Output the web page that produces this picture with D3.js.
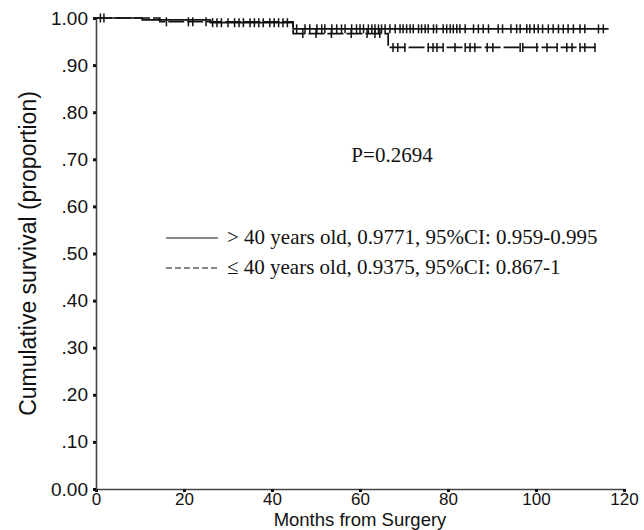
<!DOCTYPE html>
<html>
<head>
<meta charset="utf-8">
<script src="https://cdn.jsdelivr.net/npm/d3@7"></script>
<style>
  body { margin: 0; background: #fff; }
  text { fill: #111; }
</style>
</head>
<body>
<svg id="viz"></svg>
<script>
var width = 644;
var height = 530;

// axis ticks
var xTicks = [0, 20, 40, 60, 80, 100, 120];
var yTicks = [0, 0.1, 0.2, 0.3, 0.4, 0.5, 0.6, 0.7, 0.8, 0.9, 1.0];
var yTickLabels = ["0.00", ".10", ".20", ".30", ".40", ".50", ".60", ".70", ".80", ".90", "1.00"];

// > 40 years old (solid)
var olderTimes = [0, 10.5, 26, 44.8];
var olderSurv = [1, 0.996, 0.99, 0.977];
var olderEnd = 116.5;
var olderCensor = [1.0, 1.8, 26.5, 27.5, 28.5, 30, 31.5, 32.5, 33.5, 35, 36, 37, 38, 39.5, 40.5, 41.5, 42.5, 43.5,
  45.6, 47.5, 48.6, 50.2, 51.3, 52, 53.6, 54.7, 55.8, 56.6, 58.1, 59.2, 60.0, 60.8, 61.9, 62.7, 63.4, 64.2, 64.9,
  65.7, 66.8, 68.0, 69.1, 69.8, 70.6, 71.4, 72.1, 73.3, 74.0, 74.8, 75.5, 76.7, 77.4, 78.9, 79.7, 80.5, 81.2,
  82.0, 82.7, 83.9, 85.8, 86.9, 88.0, 89.2, 91.4, 92.4, 94.3, 95.6, 96.4, 97.9, 98.6, 99.6, 100.5, 101.5,
  102.8, 103.9, 105.1, 106.2, 107.3, 108.5, 110.0, 111.1, 114.2, 115.3];

// <= 40 years old (dashed)
var youngTimes = [0, 14.5, 44.8, 66.4];
var youngSurv = [1, 0.992, 0.967, 0.9375];
var youngEnd = 113.8;
var youngCensor = [16, 21, 22, 25, 47, 50, 53.5, 58, 61.6, 63.4, 64.5,
  67.5, 68.6, 70.2, 75.5, 76.6, 77.5, 78.9, 81.6, 83.9, 85, 86.1, 88.9, 90.2, 96.4, 97, 100.2, 102.5,
  104.8, 107, 108.2, 110, 111.1, 113.4];

var pText = "P=0.2694";
var legendLabels = ["> 40 years old, 0.9771, 95%CI: 0.959-0.995", "\u2264 40 years old, 0.9375, 95%CI: 0.867-1"];

var sans = "'Liberation Sans', Arial, sans-serif";
var serif = "'Liberation Serif', 'Times New Roman', serif";

var svg = d3.select("#viz").attr("width", width).attr("height", height);

var x = d3.scaleLinear().domain([0, 120]).range([96, 624]);
var y = d3.scaleLinear().domain([0, 1]).range([489, 18]);

// axes
var xAxis = svg.append("g")
    .attr("transform", "translate(0," + y(0) + ")")
    .call(d3.axisBottom(x).tickValues(xTicks).tickSize(3).tickPadding(1));
var yAxis = svg.append("g")
    .attr("transform", "translate(" + x(0) + ",0)")
    .call(d3.axisLeft(y).tickValues(yTicks).tickSize(3).tickPadding(5)
        .tickFormat(function(d, i) { return yTickLabels[i]; }));

[xAxis, yAxis].forEach(function(a) {
    a.select(".domain").attr("stroke", "#444").attr("stroke-width", 1.6);
    a.selectAll(".tick line").attr("stroke", "#111").attr("stroke-width", 3);
    a.selectAll(".tick text")
        .style("font-family", sans)
        .style("font-size", "19px")
        .attr("fill", "#111");
});
xAxis.selectAll(".tick text").style("font-size", "17px");

// axis titles
svg.append("text")
    .attr("x", x(60))
    .attr("y", 526)
    .attr("text-anchor", "middle")
    .style("font-family", sans)
    .style("font-size", "18.5px")
    .text("Months from Surgery");

svg.append("text")
    .attr("transform", "translate(36," + ((y(0) + y(1)) / 2) + ") rotate(-90)")
    .attr("text-anchor", "middle")
    .style("font-family", sans)
    .style("font-size", "23px")
    .text("Cumulative survival (proportion)");

// survival curves
function stepPoints(times, surv, end) {
    var pts = times.map(function(t, i) { return [t, surv[i]]; });
    pts.push([end, surv[surv.length - 1]]);
    return pts;
}
function survAt(times, surv, t) {
    var v = surv[0];
    times.forEach(function(tt, i) { if (t >= tt) v = surv[i]; });
    return v;
}

var line = d3.line()
    .x(function(d) { return x(d[0]); })
    .y(function(d) { return y(d[1]); })
    .curve(d3.curveStepAfter);

var groups = [
    {times: olderTimes, surv: olderSurv, end: olderEnd, censor: olderCensor, dash: null},
    {times: youngTimes, surv: youngSurv, end: youngEnd, censor: youngCensor, dash: "16,3"}
];

groups.forEach(function(g) {
    svg.append("path")
        .datum(stepPoints(g.times, g.surv, g.end))
        .attr("d", line)
        .attr("fill", "none")
        .attr("stroke", "#111")
        .attr("stroke-width", 1.7)
        .attr("stroke-dasharray", g.dash);

    svg.append("g").selectAll("line")
        .data(g.censor)
        .enter()
        .append("line")
        .attr("x1", function(d) { return x(d); })
        .attr("x2", function(d) { return x(d); })
        .attr("y1", function(d) { return y(survAt(g.times, g.surv, d)) - 4.5; })
        .attr("y2", function(d) { return y(survAt(g.times, g.surv, d)) + 4.5; })
        .attr("stroke", "#111")
        .attr("stroke-width", 1.5);
});

// p value
svg.append("text")
    .attr("x", 392)
    .attr("y", 162)
    .attr("text-anchor", "middle")
    .style("font-family", serif)
    .style("font-size", "21px")
    .text(pText);

// legend
var legend = svg.append("g");
legendLabels.forEach(function(lbl, i) {
    var ly = 238 + i * 30;
    legend.append("line")
        .attr("x1", 166).attr("x2", 218)
        .attr("y1", ly).attr("y2", ly)
        .attr("stroke", "#111")
        .attr("stroke-width", 1)
        .attr("stroke-dasharray", i == 1 ? "6,3" : null);
    legend.append("text")
        .attr("x", 227)
        .attr("y", ly + 6)
        .style("font-family", serif)
        .style("font-size", "21px")
        .text(lbl);
});
</script>
</body>
</html>
